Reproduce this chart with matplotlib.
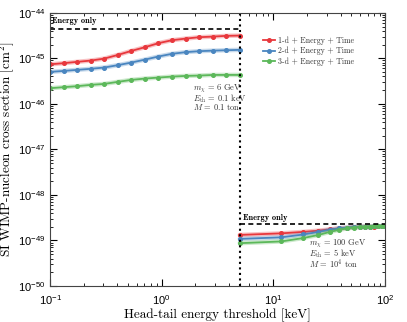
import numpy as np
import matplotlib
matplotlib.use("Agg")
import matplotlib.pyplot as plt

plt.rcParams['font.family'] = ['Liberation Sans', 'DejaVu Sans']
plt.rcParams['mathtext.fontset'] = 'cm'

# low-mass case (m_chi = 6 GeV), threshold 0.1 -> 5 keV
thr_low = np.logspace(-1, np.log10(5), 15)
red_low = [7.4e-46, 7.85e-46, 8.4e-46, 8.95e-46, 9.9e-46, 1.19e-45, 1.46e-45, 1.76e-45,
           2.16e-45, 2.51e-45, 2.72e-45, 2.92e-45, 3.01e-45, 3.13e-45, 3.17e-45]
blue_low = [5.05e-46, 5.3e-46, 5.6e-46, 5.9e-46, 6.3e-46, 7.1e-46, 8.1e-46, 9.4e-46,
            1.1e-45, 1.26e-45, 1.37e-45, 1.44e-45, 1.48e-45, 1.51e-45, 1.54e-45]
green_low = [2.21e-46, 2.33e-46, 2.45e-46, 2.62e-46, 2.75e-46, 3.05e-46, 3.37e-46, 3.6e-46,
             3.79e-46, 3.98e-46, 4.12e-46, 4.19e-46, 4.33e-46, 4.33e-46, 4.33e-46]
energy_only_low = 4.5e-45

# high-mass case (m_chi = 100 GeV), threshold 5 -> 100 keV
thr_high = np.linspace(5, 100, 15)
red_high = [1.32e-49, 1.43e-49, 1.54e-49, 1.64e-49, 1.75e-49, 1.84e-49, 1.90e-49, 1.95e-49,
            1.98e-49, 2.0e-49, 2.01e-49, 2.02e-49, 2.03e-49, 2.03e-49, 2.03e-49]
blue_high = [1.08e-49, 1.17e-49, 1.35e-49, 1.54e-49, 1.72e-49, 1.84e-49, 1.92e-49, 1.96e-49,
             1.99e-49, 2.01e-49, 2.02e-49, 2.03e-49, 2.03e-49, 2.03e-49, 2.03e-49]
green_high = [8.7e-50, 9.5e-50, 1.13e-49, 1.32e-49, 1.54e-49, 1.71e-49, 1.84e-49, 1.92e-49,
              1.97e-49, 2.0e-49, 2.02e-49, 2.03e-49, 2.03e-49, 2.03e-49, 2.03e-49]
energy_only_high = 2.25e-49

labels = ['1-d + Energy + Time', '2-d + Energy + Time', '3-d + Energy + Time']
colors = ['#e8383d', '#4a86c0', '#5cb85a']
info_low = [r'$m_\chi$ = 6 GeV', r'$E_{\rm th}$ = 0.1 keV', r'$M$ = 0.1 ton']
info_high = [r'$m_\chi$ = 100 GeV', r'$E_{\rm th}$ = 5 keV', r'$M$ = $10^4$ ton']

fig = plt.figure(figsize=(4.07, 3.22), dpi=100)
ax = fig.add_axes([0.123, 0.112, 0.823, 0.848])

lows = [red_low, blue_low, green_low]
highs = [red_high, blue_high, green_high]
for lab, c, yl, yh in zip(labels, colors, lows, highs):
    for xs, ys in [(thr_low, yl), (thr_high, yh)]:
        ax.plot(xs, ys, color=c, lw=3.2, alpha=0.3, solid_capstyle='round')
    ax.plot(thr_low, yl, color=c, lw=1.3, marker='o', ms=2.6, label=lab)
    ax.plot(thr_high, yh, color=c, lw=1.3, marker='o', ms=2.6)

ax.plot([0.1, 5], [energy_only_low] * 2, color='k', ls=(0, (3, 2)), lw=1.2)
ax.plot([5, 100], [energy_only_high] * 2, color='k', ls=(0, (3, 2)), lw=1.2)
ax.axvline(5, color='k', ls=':', lw=1.5)

ax.set_xscale('log')
ax.set_yscale('log')
ax.set_xlim(0.1, 100)
ax.set_ylim(1e-50, 1e-44)
ax.tick_params(which='both', direction='in', top=True, right=True, labelsize=8)
ax.tick_params(axis='x', which='major', pad=5)
ax.tick_params(which='major', length=5)
ax.tick_params(which='minor', length=2.5)
ax.yaxis.set_minor_locator(matplotlib.ticker.LogLocator(base=10, subs=np.arange(2, 10) * 1.0, numticks=20))
for sp in ax.spines.values():
    sp.set_color('#444444')

ax.set_xlabel('Head-tail energy threshold [keV]', fontname='cmr10', fontsize=9.5, labelpad=1)
ax.set_ylabel('SI WIMP-nucleon cross section [cm$^2$]', fontname='cmr10', fontsize=9.5, labelpad=1.5)

ax.text(0.105, 6.0e-45, 'Energy only', fontname='cmb10', fontsize=6)
ax.text(5.3, 2.85e-49, 'Energy only', fontname='cmb10', fontsize=6)

# parameter boxes, one line at a time so the spacing stays tight
for i, s in enumerate(info_low):
    ax.text(1.9, 2.95e-46 / 10 ** (i * 0.215), s, fontname='cmr10', fontsize=6,
            va='top', color='#333333')
for i, s in enumerate(info_high):
    ax.text(21, 1.15e-49 / 10 ** (i * 0.215), s, fontname='cmr10', fontsize=6,
            va='top', color='#333333')

leg = ax.legend(loc='upper left', bbox_to_anchor=(0.625, 0.925), frameon=False,
                prop={'family': 'cmr10', 'size': 5.7}, handlelength=1.6, labelspacing=0.25,
                handletextpad=0.35, borderaxespad=0)
for t in leg.get_texts():
    t.set_color('#333333')

fig.savefig('out.png', dpi=100)
